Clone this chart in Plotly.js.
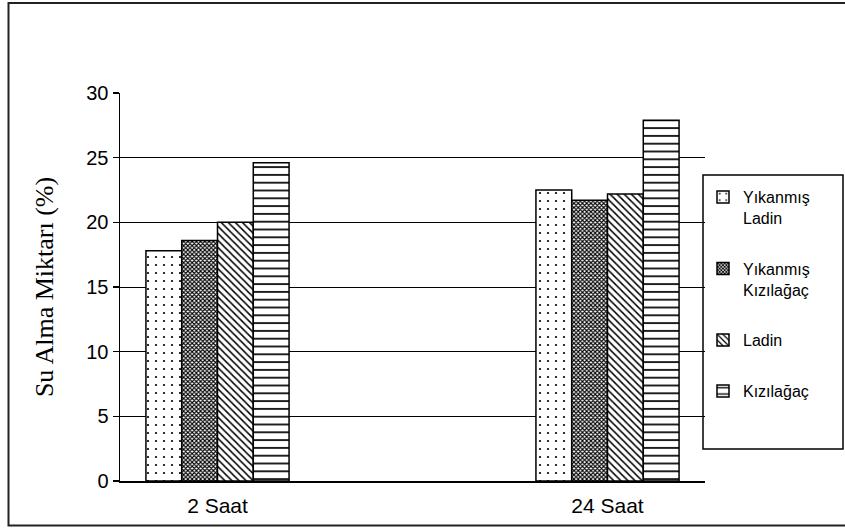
<!DOCTYPE html>
<html>
<head>
<meta charset="utf-8">
<script src="https://cdn.plot.ly/plotly-3.0.1.min.js"></script>
<style>
  html, body { margin: 0; padding: 0; background: #fff; }
  #chart { width: 845px; height: 529px; }
</style>
</head>
<body>
<div id="chart"></div>
<script>
// Water uptake (%) after 2 and 24 hours for four wood groups
const categories = ['2 Saat', '24 Saat'];
const seriesNames = ['Yıkanmış<br>Ladin', 'Yıkanmış<br>Kızılağaç', 'Ladin', 'Kızılağaç'];
const yikanmisLadin = [17.8, 22.5];
const yikanmisKizilagac = [18.6, 21.7];
const ladin = [20.0, 22.2];
const kizilagac = [24.6, 27.9];
const yTicks = [0, 5, 10, 15, 20, 25, 30];

const seriesValues = [yikanmisLadin, yikanmisKizilagac, ladin, kizilagac];
const patterns = [
  { shape: '.', size: 8, solidity: 0.06 },
  { shape: 'x', size: 3, solidity: 0.6 },
  { shape: '\\', size: 5, solidity: 0.3 },
  { shape: '-', size: 7.8, solidity: 0.22 }
];

const traces = seriesNames.map((name, i) => ({
  type: 'bar',
  name: name,
  x: categories,
  y: seriesValues[i],
  legendgroup: 'g' + i,
  marker: {
    color: 'white',
    line: { color: 'black', width: 1.5 },
    pattern: Object.assign({ fgcolor: 'black', bgcolor: 'white' }, patterns[i])
  },
  hoverinfo: 'x+y'
}));

// plot area spans 120..705 px horizontally and 93..481 px vertically
const L = 120, R = 705, T = 93, B = 481;
const px = v => (v - L) / (R - L);
const py = v => (B - v) / (B - T);

const layout = {
  width: 845,
  height: 529,
  margin: { l: L, r: 845 - R, t: T, b: 529 - B },
  paper_bgcolor: 'white',
  plot_bgcolor: 'white',
  barmode: 'group',
  bargap: 0.633,
  bargroupgap: 0,
  font: { family: 'Liberation Sans, Arial, sans-serif', color: 'black' },
  xaxis: {
    type: 'category',
    range: [-0.25, 1.25],
    autorange: false,
    showline: true,
    linecolor: 'black',
    linewidth: 1.5,
    ticks: 'outside',
    ticklen: 5,
    tickcolor: 'rgba(0,0,0,0)',
    tickfont: { size: 21 },
    showgrid: false,
    zeroline: false,
    fixedrange: true
  },
  xaxis2: {
    overlaying: 'x',
    anchor: 'y',
    side: 'bottom',
    range: [-0.25, 1.25],
    autorange: false,
    tickmode: 'array',
    tickvals: [-0.25, 0.25, 0.75, 1.25],
    ticks: 'outside',
    ticklen: 5,
    tickwidth: 1.5,
    tickcolor: 'black',
    showticklabels: false,
    showgrid: false,
    zeroline: false,
    showline: false,
    fixedrange: true
  },
  yaxis: {
    range: [0, 30],
    autorange: false,
    tickmode: 'array',
    tickvals: yTicks,
    ticks: 'outside',
    ticklen: 6,
    tickwidth: 1.5,
    tickcolor: 'black',
    tickfont: { size: 20 },
    showline: true,
    linecolor: 'black',
    linewidth: 1.5,
    showgrid: true,
    gridcolor: 'black',
    gridwidth: 1,
    zeroline: false,
    fixedrange: true,
    title: {
      text: 'Su Alma Miktarı (%)',
      font: { family: 'Liberation Serif, Times New Roman, serif', size: 26 },
      standoff: 25
    }
  },
  showlegend: true,
  legend: {
    x: px(703),
    y: py(180),
    xanchor: 'left',
    yanchor: 'top',
    bgcolor: 'rgba(0,0,0,0)',
    borderwidth: 0,
    font: { size: 16 },
    valign: 'top',
    tracegroupgap: 27,
    traceorder: 'grouped'
  },
  shapes: [
    // legend frame
    { type: 'rect', xref: 'paper', yref: 'paper',
      x0: px(703), x1: px(843), y0: py(449), y1: py(175),
      line: { color: 'black', width: 1.5 }, fillcolor: 'rgba(0,0,0,0)' },
    // chart area frame
    { type: 'rect', xref: 'paper', yref: 'paper',
      x0: px(8.5), x1: px(850), y0: py(525.5), y1: py(3),
      line: { color: '#222', width: 2 }, fillcolor: 'rgba(0,0,0,0)' }
  ]
};

Plotly.newPlot('chart', traces, layout, { displayModeBar: false, staticPlot: true });
</script>
</body>
</html>
